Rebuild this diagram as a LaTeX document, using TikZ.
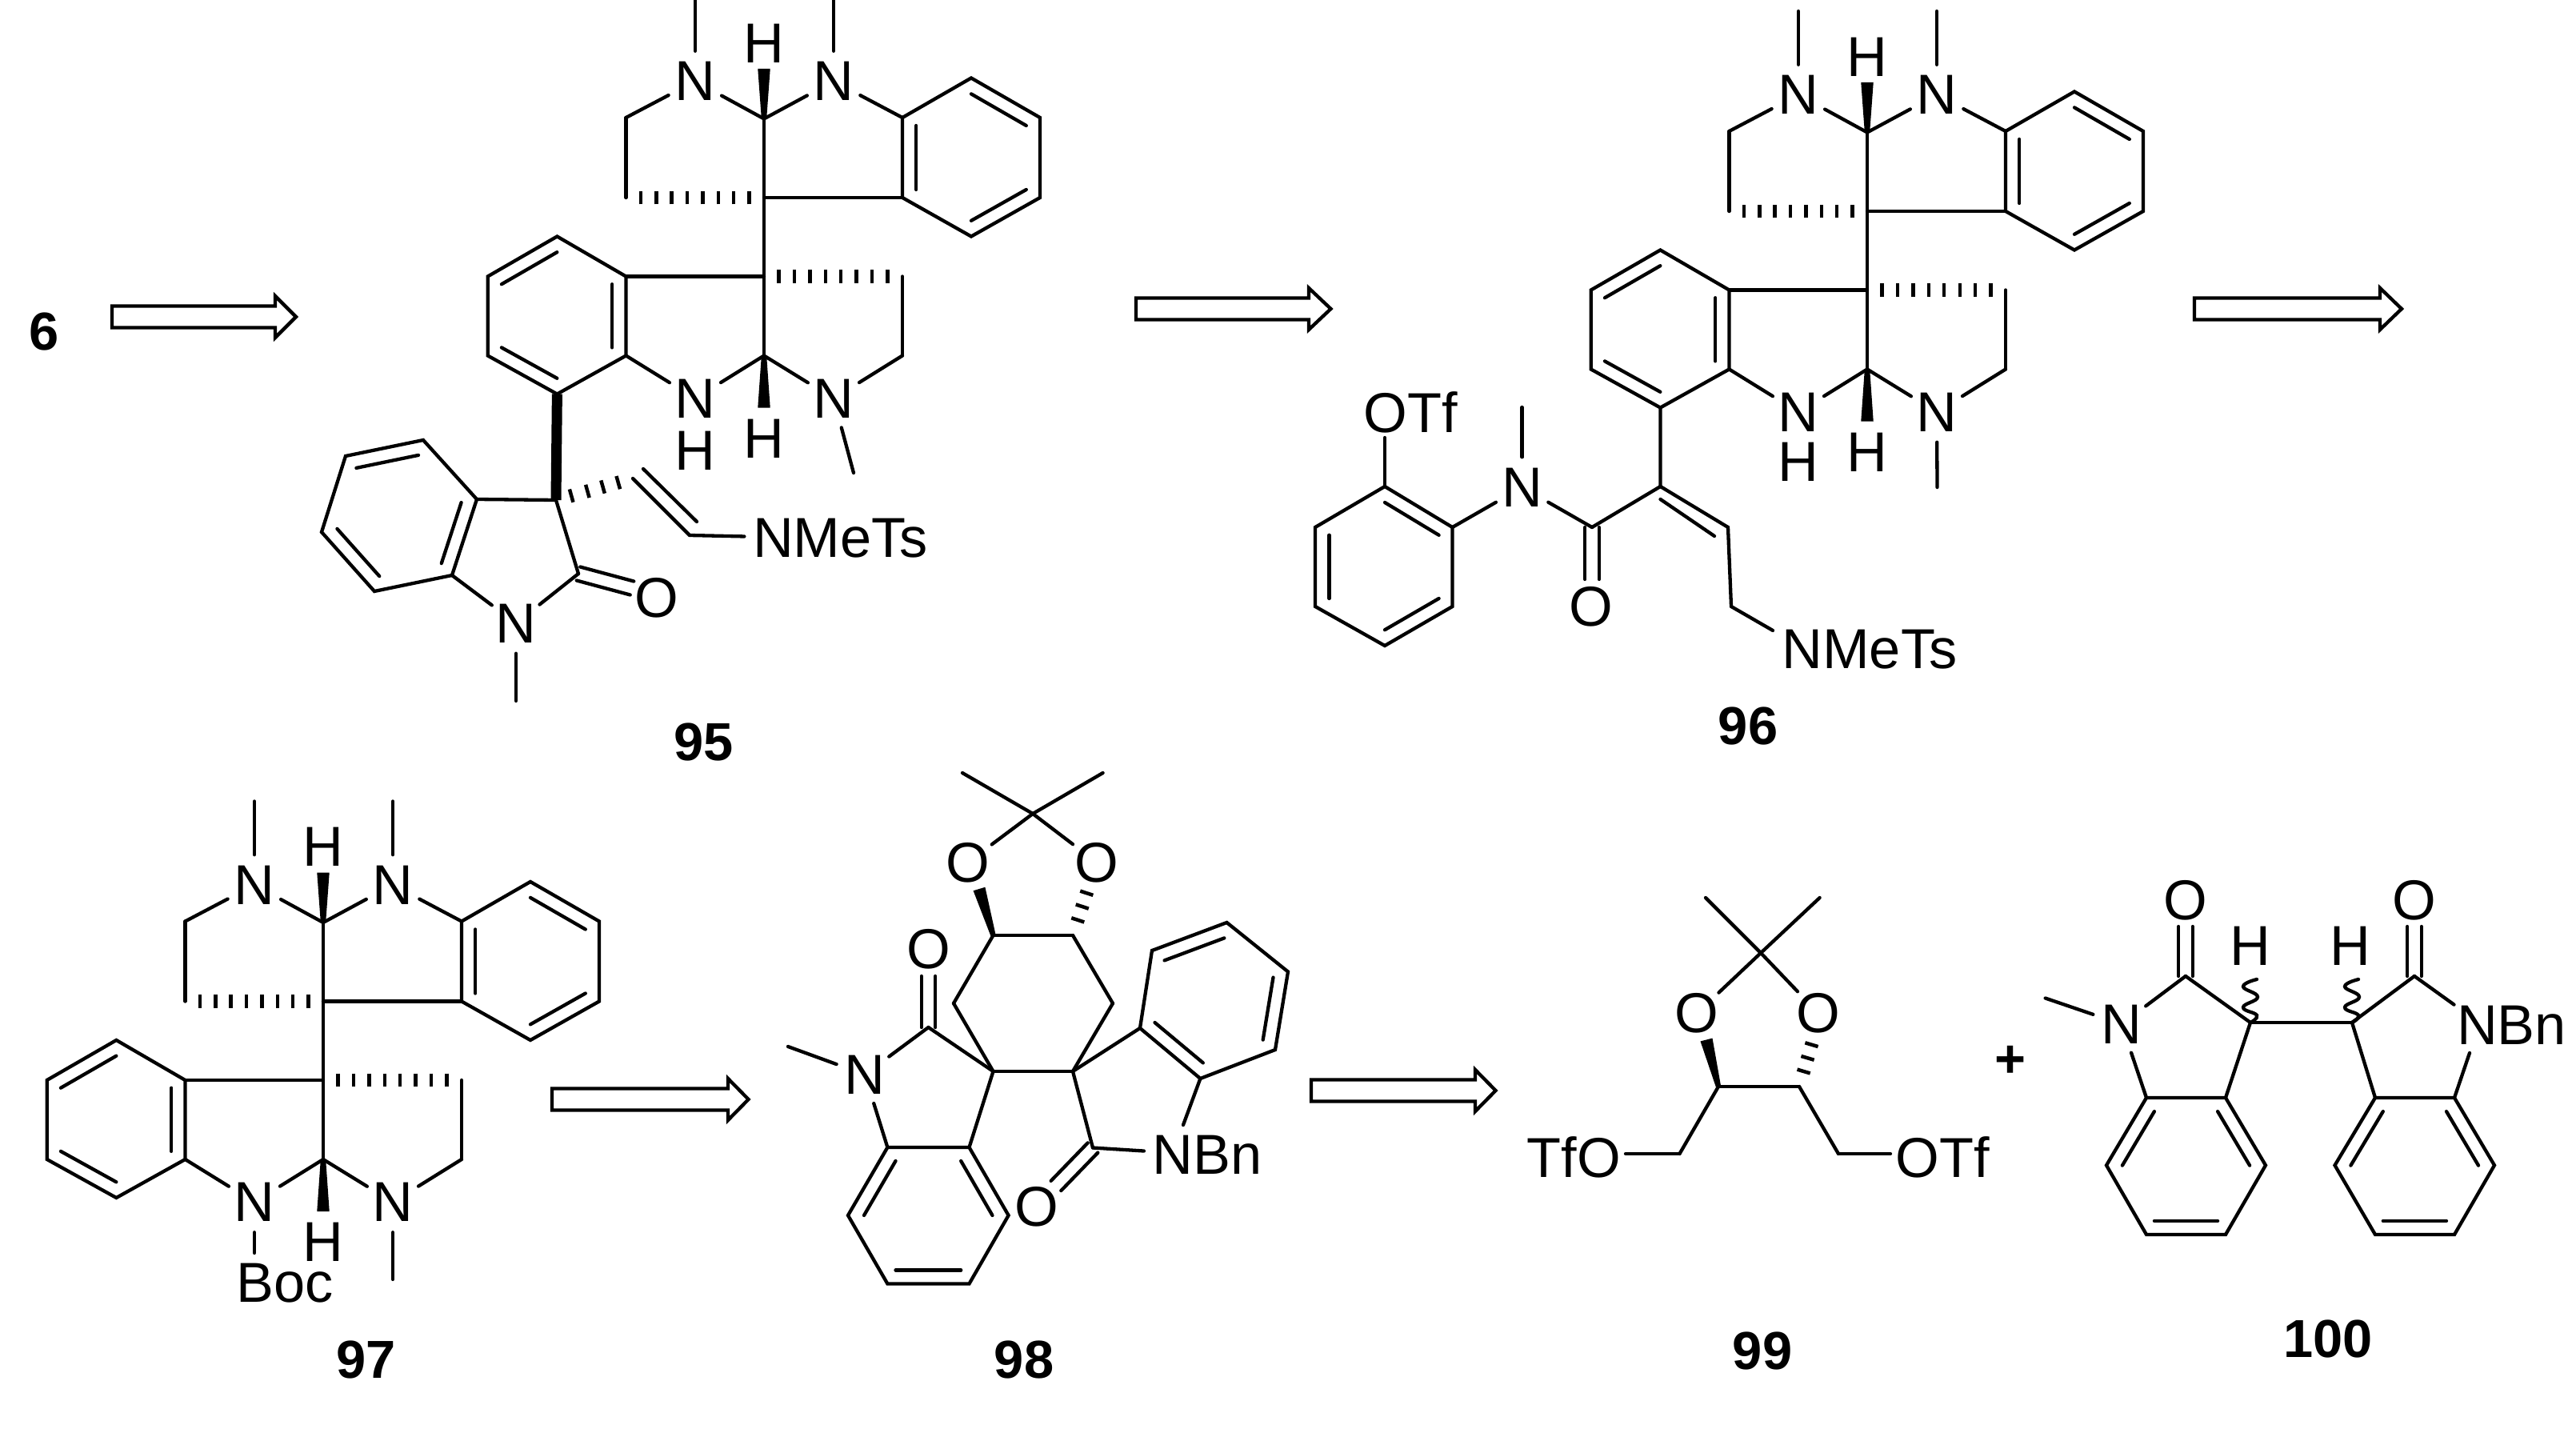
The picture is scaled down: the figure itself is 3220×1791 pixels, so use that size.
\documentclass[tikz,border=0pt]{standalone}
\usepackage{fontspec}
\setmainfont{Liberation Sans}
\usetikzlibrary{calc}

\newcommand{\ringdbl}[3]{\draw[bond] ($(#1)!0.2!(#3)$) -- ($(#2)!0.2!(#3)$);}
\newcommand{\wedgebond}[2]{\fill ($(#1)!0.9pt!90:(#2)$) -- ($(#2)!2.2pt!-90:(#1)$) -- ($(#2)!2.2pt!90:(#1)$) -- ($(#1)!0.9pt!-90:(#2)$) -- cycle;}
\newcommand{\hashbond}[3]{\foreach \t in {#3} \draw[hashtick] ($(#1)!\t!(#2)!2.4pt!90:(#2)$) -- ($(#1)!\t!(#2)!2.4pt!-90:(#2)$);}
\newcommand{\dblbond}[2]{\draw[bond] ($(#1)!2.5pt!90:(#2)$) -- ($(#2)!2.5pt!-90:(#1)$) ($(#1)!2.5pt!-90:(#2)$) -- ($(#2)!2.5pt!90:(#1)$);}
\newcommand{\retroarrow}[4]{\draw[bond] (#1,#4-13.5) -- (#2,#4-13.5) -- (#2,#4-26) -- (#3,#4) -- (#2,#4+26) -- (#2,#4+13.5) -- (#1,#4+13.5) -- cycle;}
\newcommand{\wavybond}[1]{\draw[bond, shift={(#1)}] plot[smooth, tension=0.8] coordinates {(0,0) (8,-9) (-9,-19) (9,-32) (-9,-45) (8,-54)};}

\tikzset{
  bond/.style={line width=0.043cm, line cap=round, line join=miter},
  hashtick/.style={line width=0.045cm},
  boldbond/.style={line width=0.13cm},
  atom/.style={circle, inner sep=0pt, minimum size=0.74cm, font=\fontsize{20}{20}\selectfont},
  group/.style={inner sep=0.1cm, font=\fontsize{20}{20}\selectfont},
  cmpd/.style={inner sep=0pt, font=\fontsize{19}{19}\selectfont\bfseries},
  dimer/.pic={
    \coordinate (q1) at (0,0); \coordinate (q2) at (0,98.5);
    \coordinate (ch1) at (0,-98.5); \coordinate (ch2) at (0,197.5);
    \coordinate (ua) at (173,-100); \coordinate (ub) at (259,-149.5); \coordinate (uc) at (345,-100);
    \coordinate (ud) at (345,0); \coordinate (ue) at (259,48.5); \coordinate (uf) at (173,0);
    \coordinate (ug) at (259,-50);
    \coordinate (la) at (-172.5,98.5); \coordinate (lb) at (-258.6,48.5); \coordinate (lc) at (-345.3,98.5);
    \coordinate (ld) at (-345.3,197.5); \coordinate (le) at (-258.6,245.5); \coordinate (lf) at (-172.5,197.5);
    \coordinate (lg) at (-259,147);
    \coordinate (p1) at (-172.5,-100); \coordinate (p2) at (-172.5,0);
    \coordinate (p3) at (173,197.5); \coordinate (p4) at (173,98.5);
    \coordinate (m1) at (-86,-250); \coordinate (m2) at (87,-250);
    \coordinate (w1) at (0,-161); \coordinate (w2) at (0,262.5);
    \node[atom] (nl) at (-86,-145.5) {N};
    \node[atom] (nr) at (87,-145.5) {N};
    \node[atom] (nb1) at (-86,251) {N};
    \node[atom] (nb2) at (87,251) {N};
    \node[atom] (h1) at (0,-193) {H};
    \node[atom] (h2) at (0,301) {H};
    \draw[bond] (ua) -- (ub) -- (uc) -- (ud) -- (ue) -- (uf) -- cycle;
    \draw[bond] (la) -- (lb) -- (lc) -- (ld) -- (le) -- (lf) -- cycle;
    \ringdbl{ua}{uf}{ug} \ringdbl{ub}{uc}{ug} \ringdbl{ud}{ue}{ug}
    \ringdbl{lb}{lc}{lg} \ringdbl{ld}{le}{lg} \ringdbl{la}{lf}{lg}
    \path[bond] (ch1) edge (q1)
      (q1) edge (q2)
      (q2) edge (ch2)
      (q1) edge (uf)
      (q2) edge (la)
      (ch1) edge (nl)
      (ch1) edge (nr)
      (nr) edge (ua)
      (nl) edge (p1)
      (p1) edge (p2)
      (nl) edge (m1)
      (nr) edge (m2)
      (lf) edge (nb1)
      (nb1) edge (ch2)
      (ch2) edge (nb2)
      (nb2) edge (p3)
      (p3) edge (p4);
    \wedgebond{ch1}{w1}
    \wedgebond{ch2}{w2}
    \hashbond{q1}{p2}{.107,.219,.331,.444,.556,.669,.781,.893}
    \hashbond{q2}{p4}{.107,.219,.331,.444,.556,.669,.781,.893}
  }
}

\begin{document}
\begin{tikzpicture}[x=0.01cm, y=-0.01cm]
  \useasboundingbox (0,0) rectangle (3220,1791);

  \node[cmpd] (l6) at (55,414) {6};
  \retroarrow{140}{344}{370}{396}
  \retroarrow{1420}{1636}{1663.5}{386}
  \retroarrow{2743}{2975}{3002}{386}
  \retroarrow{690}{910}{935.6}{1374}
  \retroarrow{1639}{1844}{1869.6}{1363}

  % 95
  \pic (d95) at (955,247) {dimer};
  \node[atom] (h95) at (869,563) {H};
  \coordinate (m95b) at (1067,591);
  \coordinate (a95) at (596,624); \coordinate (b95) at (529,550); \coordinate (c95) at (432,570);
  \coordinate (d95) at (402,665); \coordinate (e95) at (468,739); \coordinate (f95) at (565,719);
  \coordinate (g95) at (499,644.5);
  \coordinate (s95) at (695,625); \coordinate (k95) at (723,717); \coordinate (ko95) at (790,735);
  \coordinate (m95) at (645,876);
  \coordinate (va95) at (791,598); \coordinate (vb95) at (862,669);
  \coordinate (vc95) at (804,586); \coordinate (vd95) at (871,652);
  \node[atom] (n95) at (645,779) {N};
  \node[atom] (o95) at (821,747) {O};
  \node[group] (t95) at (1050.5,673) {NMeTs};
  \node[cmpd] (l95) at (880,927) {95};
  \draw[bond] (a95) -- (b95) -- (c95) -- (d95) -- (e95) -- (f95) -- cycle;
  \ringdbl{a95}{f95}{g95} \ringdbl{b95}{c95}{g95} \ringdbl{d95}{e95}{g95}
  \draw[boldbond] (d95le) -- (s95);
  \path[bond] (d95nb2) edge (m95b)
    (a95) edge (s95)
    (s95) edge (k95)
    (k95) edge (n95)
    (n95) edge (f95)
    (n95) edge (m95)
    (va95) edge (vb95)
    (vc95) edge (vd95)
    (vb95) edge (t95);
  \dblbond{k95}{ko95}
  \hashbond{s95}{va95}{.2,.41,.61,.81}

  % 96
  \pic (d96) at (2334,264) {dimer};
  \node[atom] (h96) at (2248,577) {H};
  \coordinate (m96b) at (2421.5,609);
  \coordinate (a96) at (1815.5,659); \coordinate (b96) at (1731,608); \coordinate (c96) at (1644,659);
  \coordinate (d96) at (1644,758); \coordinate (e96) at (1731,807); \coordinate (f96) at (1815.5,758);
  \coordinate (g96) at (1731,708);
  \coordinate (s96) at (2075.5,608); \coordinate (k96) at (1990,659); \coordinate (ko96) at (1990,724);
  \coordinate (va96) at (2160,659); \coordinate (vb96) at (2164,758); \coordinate (ve96) at (2216,788);
  \coordinate (vc96) at (2075.5,624); \coordinate (vd96) at (2143,670);
  \coordinate (m96) at (1902.6,509); \coordinate (oe96) at (1731,547);
  \node[atom] (n96) at (1902.6,609) {N};
  \node[atom] (o96) at (1988.5,758) {O};
  \node[group] (t96) at (2337,812) {NMeTs};
  \node[group] (tf96) at (1763,515) {OTf};
  \node[cmpd] (l96) at (2185,907) {96};
  \draw[bond] (a96) -- (b96) -- (c96) -- (d96) -- (e96) -- (f96) -- cycle;
  \ringdbl{a96}{b96}{g96} \ringdbl{c96}{d96}{g96} \ringdbl{e96}{f96}{g96}
  \path[bond] (d96nb2) edge (m96b)
    (d96le) edge (s96)
    (s96) edge (k96)
    (k96) edge (n96)
    (n96) edge (a96)
    (n96) edge (m96)
    (b96) edge (oe96)
    (s96) edge (va96)
    (vc96) edge (vd96)
    (va96) edge (vb96)
    (vb96) edge (ve96);
  \dblbond{k96}{ko96}

  % 97
  \pic (d97) at (404,1251.5) {dimer};
  \coordinate (m97) at (491,1599); \coordinate (be97) at (318,1566);
  \node[group] (t97) at (356.5,1604) {Boc};
  \node[cmpd] (l97) at (458,1699) {97};
  \path[bond] (d97nb2) edge (m97)
    (d97nb1) edge (be97);

  % 98
  \coordinate (q98) at (1291,1017); \coordinate (ma98) at (1203,966); \coordinate (mb98) at (1378.6,966);
  \coordinate (c98) at (1241.5,1169); \coordinate (d98) at (1341,1169);
  \coordinate (wa98) at (1224,1111); \coordinate (wb98) at (1360,1111);
  \coordinate (pa98) at (1192,1254); \coordinate (pb98) at (1391,1254);
  \coordinate (sa98) at (1241.5,1339); \coordinate (sb98) at (1341,1339);
  \coordinate (k98) at (1160.5,1284); \coordinate (ko98) at (1160.5,1220);
  \coordinate (m98) at (985,1308);
  \coordinate (ra98) at (1109.4,1434); \coordinate (rb98) at (1060,1519); \coordinate (rc98) at (1109.4,1604.5);
  \coordinate (rd98) at (1211.5,1604.5); \coordinate (re98) at (1260.6,1519); \coordinate (rf98) at (1211.5,1434);
  \coordinate (rg98) at (1160,1519);
  \coordinate (ua98) at (1425,1285); \coordinate (ub98) at (1440,1188); \coordinate (uc98) at (1533.5,1153);
  \coordinate (ud98) at (1610,1214.5); \coordinate (ue98) at (1594,1312); \coordinate (uf98) at (1500.4,1348);
  \coordinate (ug98) at (1517.5,1250);
  \coordinate (kb98) at (1366,1434.5); \coordinate (kc98) at (1320,1482); \coordinate (ne98) at (1479,1406);
  \node[atom] (oa98) at (1209.6,1078) {O};
  \node[atom] (ob98) at (1371,1078) {O};
  \node[atom] (oc98) at (1160.5,1186) {O};
  \node[atom] (n98) at (1081,1343) {N};
  \node[atom] (od98) at (1295.7,1508) {O};
  \node[group] (t98) at (1509,1443.5) {NBn};
  \node[cmpd] (l98) at (1280,1699) {98};
  \draw[bond] (ra98) -- (rb98) -- (rc98) -- (rd98) -- (re98) -- (rf98) -- cycle;
  \draw[bond] (ua98) -- (ub98) -- (uc98) -- (ud98) -- (ue98) -- (uf98) -- cycle;
  \ringdbl{ra98}{rb98}{rg98} \ringdbl{rc98}{rd98}{rg98} \ringdbl{re98}{rf98}{rg98}
  \ringdbl{ua98}{uf98}{ug98} \ringdbl{ub98}{uc98}{ug98} \ringdbl{ud98}{ue98}{ug98}
  \path[bond] (q98) edge (ma98)
    (q98) edge (mb98)
    (q98) edge (oa98)
    (q98) edge (ob98)
    (c98) edge (d98)
    (c98) edge (pa98)
    (d98) edge (pb98)
    (pa98) edge (sa98)
    (pb98) edge (sb98)
    (sa98) edge (sb98)
    (sa98) edge (k98)
    (sa98) edge (rf98)
    (k98) edge (n98)
    (n98) edge (m98)
    (n98) edge (ra98)
    (sb98) edge (ua98)
    (sb98) edge (kb98)
    (kb98) edge (t98)
    (uf98) edge (ne98);
  \dblbond{k98}{ko98}
  \dblbond{kb98}{kc98}
  \wedgebond{c98}{wa98}
  \hashbond{d98}{wb98}{.33,.62,.91}

  % 99
  \coordinate (q99) at (2201,1191); \coordinate (ma99) at (2132,1122); \coordinate (mb99) at (2274.6,1122);
  \coordinate (c99) at (2148,1358); \coordinate (d99) at (2249,1358);
  \coordinate (wa99) at (2133,1299.5); \coordinate (wb99) at (2266,1300.5);
  \coordinate (pa99) at (2099.5,1442); \coordinate (pb99) at (2298,1442);
  \coordinate (ea99) at (2032,1442); \coordinate (eb99) at (2363,1442);
  \node[atom] (oa99) at (2121,1266.5) {O};
  \node[atom] (ob99) at (2273,1266.5) {O};
  \node[group] (ta99) at (1967.5,1446) {TfO};
  \node[group] (tb99) at (2428,1446) {OTf};
  \node[cmpd] (l99) at (2203,1688) {99};
  \node[cmpd] (plus) at (2513,1326.5) {+};
  \path[bond] (q99) edge (ma99)
    (q99) edge (mb99)
    (q99) edge (oa99)
    (q99) edge (ob99)
    (c99) edge (d99)
    (c99) edge (pa99)
    (d99) edge (pb99)
    (pa99) edge (ea99)
    (pb99) edge (eb99);
  \wedgebond{c99}{wa99}
  \hashbond{d99}{wb99}{.33,.62,.91}

  % 100
  \coordinate (sa100) at (2813,1278); \coordinate (sb100) at (2940,1278);
  \coordinate (ka100) at (2732,1220); \coordinate (kb100) at (3018,1220);
  \coordinate (koa100) at (2732,1158); \coordinate (kob100) at (3018,1158);
  \coordinate (m100) at (2556.6,1247.5);
  \coordinate (na100) at (3067.5,1255.6); \coordinate (nb100) at (3087,1316);
  \coordinate (ra100) at (2683,1372); \coordinate (rb100) at (2633,1456.4); \coordinate (rc100) at (2683,1543);
  \coordinate (rd100) at (2782,1543); \coordinate (re100) at (2832,1456.4); \coordinate (rf100) at (2782,1372);
  \coordinate (rg100) at (2732.5,1457.5);
  \coordinate (ua100) at (2969,1372); \coordinate (ub100) at (2918.5,1456.4); \coordinate (uc100) at (2969,1543);
  \coordinate (ud100) at (3068,1543); \coordinate (ue100) at (3118,1456.4); \coordinate (uf100) at (3068,1372);
  \coordinate (ug100) at (3018,1457.5);
  \node[atom] (oa100) at (2732,1125) {O};
  \node[atom] (ob100) at (3018,1125) {O};
  \node[atom] (ha100) at (2813,1182) {H};
  \node[atom] (hb100) at (2938,1182) {H};
  \node[atom] (n100) at (2652,1280) {N};
  \node[group] (t100) at (3139.5,1281.6) {NBn};
  \node[cmpd] (l100) at (2910,1673) {100};
  \draw[bond] (ra100) -- (rb100) -- (rc100) -- (rd100) -- (re100) -- (rf100) -- cycle;
  \draw[bond] (ua100) -- (ub100) -- (uc100) -- (ud100) -- (ue100) -- (uf100) -- cycle;
  \ringdbl{ra100}{rb100}{rg100} \ringdbl{rc100}{rd100}{rg100} \ringdbl{re100}{rf100}{rg100}
  \ringdbl{ua100}{ub100}{ug100} \ringdbl{uc100}{ud100}{ug100} \ringdbl{ue100}{uf100}{ug100}
  \path[bond] (sa100) edge (sb100)
    (sa100) edge (ka100)
    (sa100) edge (rf100)
    (ka100) edge (n100)
    (n100) edge (m100)
    (n100) edge (ra100)
    (sb100) edge (kb100)
    (sb100) edge (ua100)
    (kb100) edge (na100)
    (nb100) edge (uf100);
  \dblbond{ka100}{koa100}
  \dblbond{kb100}{kob100}
  \wavybond{sa100}
  \wavybond{sb100}
\end{tikzpicture}
\end{document}
